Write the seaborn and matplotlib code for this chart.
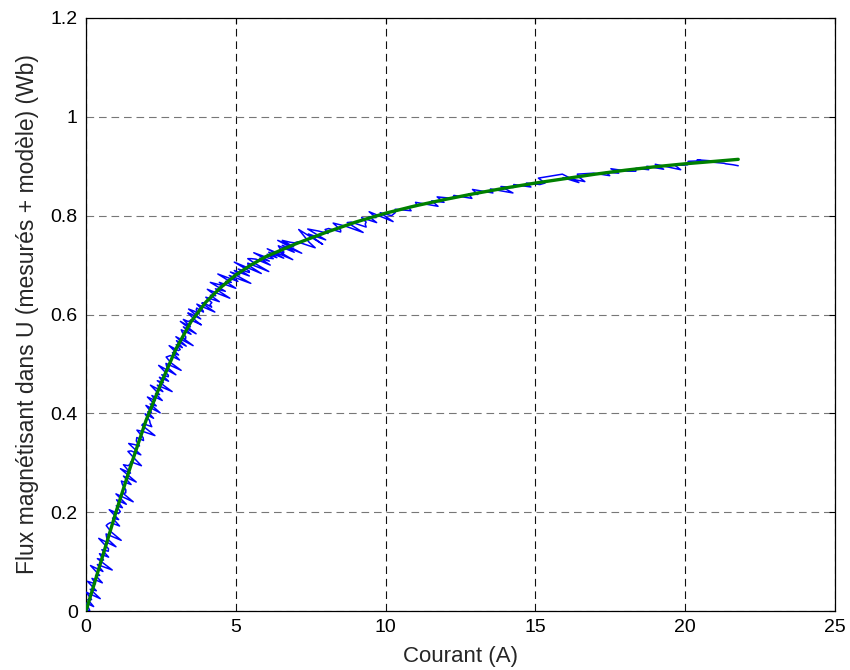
import matplotlib
matplotlib.use("Agg")
import matplotlib.pyplot as plt
from matplotlib.ticker import FuncFormatter
import pandas as pd
import seaborn as sns

# Courbe de magnétisation : flux mesuré (bruité) et modèle ajusté
courant_modele = [0.0, 0.5, 1.0, 1.5, 2.0, 2.5, 3.0, 3.5, 4.0, 4.5, 5.0, 5.5,
                  6.0, 7.0, 8.0, 9.0, 10.0, 11.0, 12.0, 13.0, 14.0, 15.0,
                  16.0, 17.0, 18.0, 19.0, 20.0, 21.0, 21.77]
flux_modele = [0.000, 0.100, 0.200, 0.295, 0.385, 0.460, 0.530, 0.585, 0.625,
               0.655, 0.680, 0.700, 0.717, 0.743, 0.766, 0.787, 0.805, 0.820,
               0.833, 0.845, 0.856, 0.866, 0.875, 0.884, 0.892, 0.899, 0.905,
               0.910, 0.914]

# Échantillons mesurés (courant en A, flux en Wb), dans l'ordre d'acquisition
courant_mesure = [
    0.000, 0.125, 0.010, 0.255, 0.060, 0.185, 0.010, 0.475, 0.140, 0.345,
    0.050, 0.315, 0.200, 0.545, 0.320, 0.455, 0.150, 0.565, 0.380, 0.875,
    0.380, 0.585, 0.450, 0.755, 0.530, 0.745, 0.750, 0.425, 1.000, 0.695,
    0.670, 1.175, 0.840, 0.675, 0.730, 0.815, 1.120, 0.885, 1.090, 0.775,
    1.080, 1.145, 1.010, 1.215, 1.020, 1.345, 1.000, 1.575, 1.240, 1.325,
    1.330, 1.215, 1.180, 1.505, 1.250, 1.675, 1.150, 1.485, 1.250, 1.405,
    1.470, 1.495, 1.850, 1.675, 1.400, 1.505, 1.830, 1.425, 1.600, 1.785,
    1.680, 1.695, 1.920, 1.905, 1.700, 1.915, 2.300, 1.865, 1.910, 2.195,
    2.140, 2.125, 1.970, 2.255, 2.060, 2.185, 2.000, 2.475, 2.140, 2.345,
    2.050, 2.315, 2.200, 2.545, 2.320, 2.455, 2.150, 2.565, 2.380, 2.875,
    2.380, 2.585, 2.450, 2.755, 2.530, 2.745, 2.750, 2.425, 3.000, 2.695,
    2.670, 3.175, 2.840, 2.675, 2.730, 2.815, 3.120, 2.885, 3.090, 2.775,
    3.080, 3.145, 3.010, 3.215, 3.020, 3.345, 3.000, 3.575, 3.240, 3.325,
    3.330, 3.215, 3.180, 3.505, 3.250, 3.675, 3.150, 3.485, 3.250, 3.405,
    3.470, 3.495, 3.850, 3.675, 3.400, 3.505, 3.830, 3.425, 3.600, 3.785,
    3.680, 3.695, 3.920, 3.905, 3.700, 3.915, 4.300, 3.865, 3.910, 4.195,
    4.140,
    4.20, 4.00, 4.45, 4.15, 4.33, 4.05, 4.80, 4.32, 4.65, 4.15,
    4.60, 4.45, 5.00, 4.66, 4.85, 4.40, 5.07, 4.78, 5.50, 4.82,
    5.13, 4.95, 5.45, 5.08, 5.45, 5.45, 4.95, 5.85, 5.41, 5.40,
    6.10, 5.65, 5.40, 5.52, 5.67, 6.15, 5.80, 6.12, 5.60, 6.10,
    6.25, 6.05, 6.37, 6.10, 6.60, 6.05, 6.90, 6.45, 6.60, 6.60,
    6.47, 6.42, 6.95, 6.55, 7.20, 6.40, 6.93, 6.55, 6.83, 6.96,
    7.06, 7.65, 7.45, 7.10, 7.90, 7.42, 8.00, 7.40, 7.75, 8.08,
    7.98, 8.10, 8.50, 8.50, 8.25, 8.65, 9.25, 8.72, 8.85, 9.35,
    9.32, 9.35, 9.20, 9.70, 9.45, 9.68, 9.45, 10.25, 9.82, 10.20,
    10.32, 10.32, 10.85, 10.76, 11.06, 11.00, 11.75, 11.54, 11.95, 11.72,
    12.23, 12.28, 12.88, 12.77, 13.08, 12.90, 13.58, 13.50, 14.25, 13.85,
    14.26, 14.28, 14.85, 14.70, 15.15, 15.32, 15.10, 15.90, 16.45, 15.92,
    16.65, 16.43, 16.40, 16.65, 16.94, 17.48, 17.36, 17.78, 17.52, 18.08,
    18.35, 18.36, 18.78, 18.72, 19.28, 19.00, 19.85, 19.63, 19.92, 20.08,
    20.10, 20.55, 20.40, 20.85, 20.95, 21.30, 21.35, 21.60, 21.77,
]
flux_mesure = [
    0.000, 0.001, 0.016, 0.009, 0.023, 0.023, 0.038, 0.025, 0.044, 0.041,
    0.060, 0.055, 0.066, 0.057, 0.072, 0.072, 0.092, 0.080, 0.094, 0.083,
    0.106, 0.103, 0.116, 0.109, 0.124, 0.121, 0.126, 0.147, 0.130, 0.147,
    0.156, 0.143, 0.160, 0.173, 0.176, 0.179, 0.172, 0.188, 0.185, 0.205,
    0.197, 0.201, 0.213, 0.209, 0.225, 0.216, 0.237, 0.221, 0.238, 0.239,
    0.245, 0.256, 0.263, 0.256, 0.273, 0.261, 0.288, 0.279, 0.296, 0.294,
    0.297, 0.302, 0.294, 0.305, 0.323, 0.324, 0.316, 0.339, 0.337, 0.334,
    0.344, 0.351, 0.345, 0.351, 0.366, 0.363, 0.355, 0.376, 0.379, 0.373,
    0.380, 0.385, 0.399, 0.390, 0.403, 0.402, 0.416, 0.401, 0.419, 0.415,
    0.433, 0.426, 0.436, 0.426, 0.440, 0.438, 0.457, 0.444, 0.457, 0.444,
    0.466, 0.462, 0.473, 0.465, 0.478, 0.474, 0.477, 0.497, 0.478, 0.494,
    0.501, 0.487, 0.502, 0.514, 0.515, 0.517, 0.508, 0.523, 0.518, 0.537,
    0.527, 0.529, 0.539, 0.533, 0.547, 0.536, 0.555, 0.537, 0.552, 0.551,
    0.555, 0.564, 0.569, 0.560, 0.575, 0.561, 0.586, 0.575, 0.590, 0.586,
    0.587, 0.589, 0.579, 0.587, 0.603, 0.601, 0.591, 0.611, 0.607, 0.601,
    0.609, 0.613, 0.605, 0.608, 0.621, 0.615, 0.605, 0.623, 0.624, 0.615,
    0.620,
    0.624, 0.635, 0.626, 0.639, 0.638, 0.651, 0.633, 0.652, 0.647, 0.665,
    0.658, 0.665, 0.653, 0.667, 0.665, 0.682, 0.667, 0.679, 0.663, 0.686,
    0.680, 0.689, 0.678, 0.692, 0.685, 0.688, 0.706, 0.683, 0.700, 0.704,
    0.687, 0.703, 0.713, 0.713, 0.712, 0.700, 0.714, 0.708, 0.725, 0.714,
    0.713, 0.722, 0.715, 0.726, 0.714, 0.733, 0.711, 0.727, 0.725, 0.727,
    0.734, 0.739, 0.726, 0.740, 0.724, 0.750, 0.737, 0.750, 0.746, 0.745,
    0.747, 0.735, 0.746, 0.772, 0.742, 0.763, 0.751, 0.773, 0.769, 0.764,
    0.772, 0.774, 0.767, 0.771, 0.785, 0.779, 0.766, 0.786, 0.787, 0.777,
    0.783, 0.787, 0.796, 0.786, 0.798, 0.796, 0.808, 0.788, 0.806, 0.800,
    0.806, 0.813, 0.810, 0.818, 0.819, 0.827, 0.819, 0.830, 0.827, 0.838,
    0.835, 0.841, 0.835, 0.844, 0.843, 0.853, 0.846, 0.854, 0.846, 0.859,
    0.857, 0.863, 0.858, 0.866, 0.863, 0.866, 0.876, 0.884, 0.867, 0.877,
    0.869, 0.879, 0.884, 0.885, 0.886, 0.881, 0.888, 0.886, 0.895, 0.890,
    0.890, 0.896, 0.893, 0.900, 0.894, 0.904, 0.893, 0.903, 0.902, 0.903,
    0.910, 0.911, 0.913, 0.911, 0.908, 0.906, 0.905, 0.903, 0.901,
]

x_ticks = [0, 5, 10, 15, 20, 25]
y_ticks = [0, 0.2, 0.4, 0.6, 0.8, 1.0, 1.2]

sns.set_style("white")
plt.rcParams["font.family"] = ["Liberation Sans", "DejaVu Sans"]
plt.rcParams["lines.scale_dashes"] = False

mesure = pd.DataFrame({"courant": courant_mesure, "flux": flux_mesure})
modele = pd.DataFrame({"courant": courant_modele, "flux": flux_modele})

fig = plt.figure(figsize=(8.5, 6.7), dpi=100)
ax = fig.add_axes([86 / 850, 59 / 670, 749 / 850, 593 / 670])

sns.lineplot(data=mesure, x="courant", y="flux", sort=False, estimator=None,
             color="#0000ff", linewidth=1.1, ax=ax, zorder=3)
sns.lineplot(data=modele, x="courant", y="flux", sort=False, estimator=None,
             color="#008000", linewidth=2.4, ax=ax, zorder=4)

ax.set_xlim(0, 25)
ax.set_ylim(0, 1.2)
ax.set_xticks(x_ticks)
ax.set_yticks(y_ticks)
fmt = FuncFormatter(lambda v, p: f"{v:g}")
ax.xaxis.set_major_formatter(fmt)
ax.yaxis.set_major_formatter(fmt)

ax.xaxis.grid(True, color="#111111", linewidth=0.8, linestyle=(0, (5.5, 3.5)))
ax.yaxis.grid(True, color="#777777", linewidth=0.8, linestyle=(0, (5.5, 3.5)))
ax.set_axisbelow(True)

for s in ax.spines.values():
    s.set_visible(True)
    s.set_color("black")
    s.set_linewidth(0.9)

ax.tick_params(direction="in", length=4.5, width=0.8, top=True, right=True,
               labelsize=14, colors="black")
ax.tick_params(axis="x", pad=6)
ax.tick_params(axis="y", pad=6)

ax.set_xlabel("Courant (A)", fontsize=16, labelpad=7)
ax.set_ylabel("Flux magnétisant dans U (mesurés + modèle) (Wb)", fontsize=16.5,
              labelpad=8)

fig.savefig("out.png", dpi=100)
